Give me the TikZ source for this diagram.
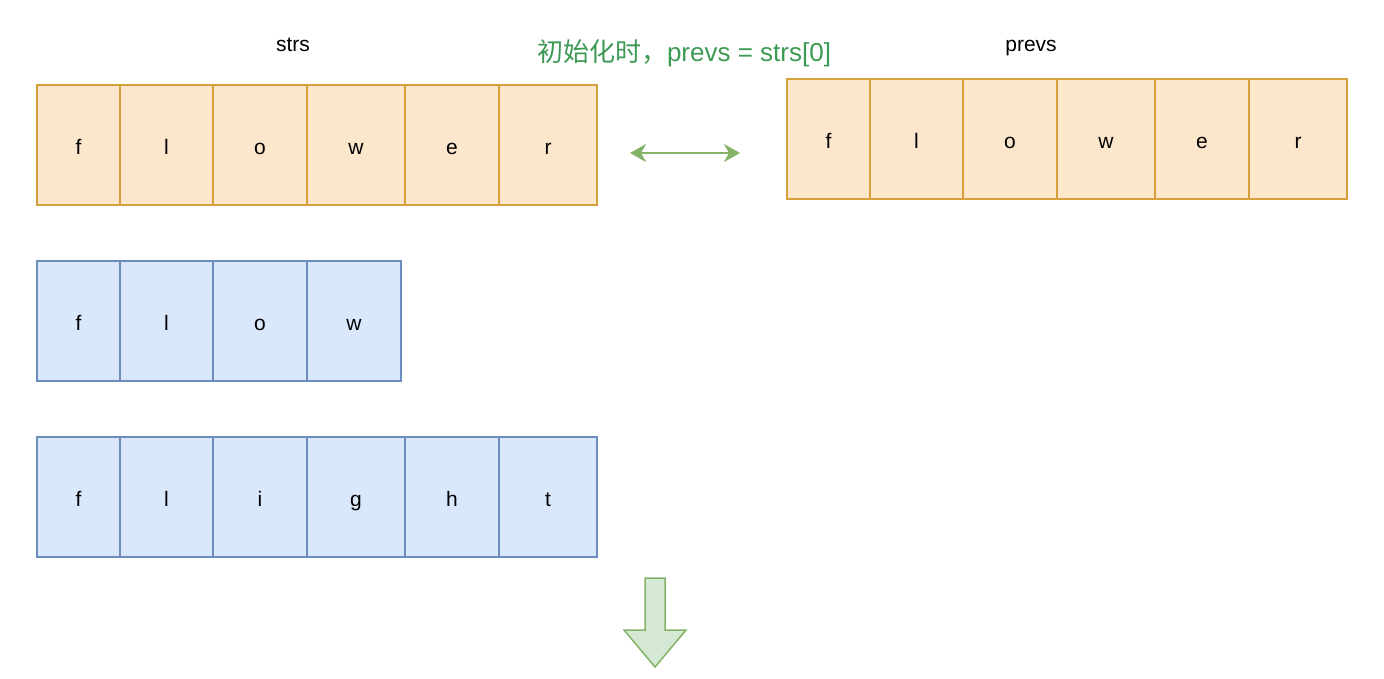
\documentclass[tikz,border=0pt]{standalone}
\usepackage{fontspec}
\setmainfont{Liberation Sans}
\newfontfamily\cjk{Noto Sans CJK SC}
\usetikzlibrary{arrows.meta}
\definecolor{orfill}{HTML}{FCE6CC}
\definecolor{ordraw}{HTML}{D6A03C}
\definecolor{blfill}{HTML}{DAE8FC}
\definecolor{bldraw}{HTML}{6C8EBF}
\definecolor{grfill}{HTML}{D5E8D4}
\definecolor{grdraw}{HTML}{82B366}
\definecolor{grtext}{HTML}{3C9A55}
\begin{document}
\begin{tikzpicture}[x=1pt,y=-1pt,
  cellbase/.style={rectangle, inner sep=0pt, line width=1.5pt, minimum height=120pt, text height=20pt, text depth=2pt, font=\fontsize{21}{24}\selectfont},
  orcell/.style={cellbase, fill=orfill, draw=ordraw},
  blcell/.style={cellbase, fill=blfill, draw=bldraw},
  label/.style={font=\fontsize{21}{24}\selectfont, inner sep=0pt, anchor=base},
  note/.style={font=\fontsize{26}{30}\selectfont, text=grtext, inner sep=0pt, anchor=base},
  dblarrow/.style={draw=grdraw, line width=2pt, {Stealth[length=16pt,width=18pt,inset=5pt]}-{Stealth[length=16pt,width=18pt,inset=5pt]}},
  bigarrow/.style={fill=grfill, draw=grdraw, line width=1.5pt, line join=miter}
]
\useasboundingbox (0,0) rectangle (1384,678);
% titles
\node[label] (tstrs) at (293,51) {strs};
\node[label] (tprevs) at (1031,51) {prevs};
\node[note] (tnote) at (684,61) {{\cjk 初始化时，}prevs = strs[0]};
% row 1: flower (strs[0])
\foreach \l/\r/\t/\n in {37/120/f/1,120/213/l/2,213/307/o/3,307/405/w/4,405/499/e/5,499/597/r/6}{
  \pgfmathsetmacro\w{\r-\l}
  \node[orcell, minimum width=\w pt] (a\n) at ({(\l+\r)/2},145) {\t};
}
% row 2: flow
\foreach \l/\r/\t/\n in {37/120/f/1,120/213/l/2,213/307/o/3,307/401/w/4}{
  \pgfmathsetmacro\w{\r-\l}
  \node[blcell, minimum width=\w pt] (b\n) at ({(\l+\r)/2},321) {\t};
}
% row 3: flight
\foreach \l/\r/\t/\n in {37/120/f/1,120/213/l/2,213/307/i/3,307/405/g/4,405/499/h/5,499/597/t/6}{
  \pgfmathsetmacro\w{\r-\l}
  \node[blcell, minimum width=\w pt] (c\n) at ({(\l+\r)/2},497) {\t};
}
% prevs
\foreach \l/\r/\t/\n in {787/870/f/1,870/963/l/2,963/1057/o/3,1057/1155/w/4,1155/1249/e/5,1249/1347/r/6}{
  \pgfmathsetmacro\w{\r-\l}
  \node[orcell, minimum width=\w pt] (p\n) at ({(\l+\r)/2},139) {\t};
}
% double arrow
\coordinate (dl) at (630,153);
\coordinate (dr) at (740,153);
\draw[dblarrow] (dl) -- (dr);
% big down arrow
\draw[bigarrow] (645,578) -- (665,578) -- (665,630) -- (686,630) -- (655,667) -- (624,630) -- (645,630) -- cycle;
\end{tikzpicture}
\end{document}
